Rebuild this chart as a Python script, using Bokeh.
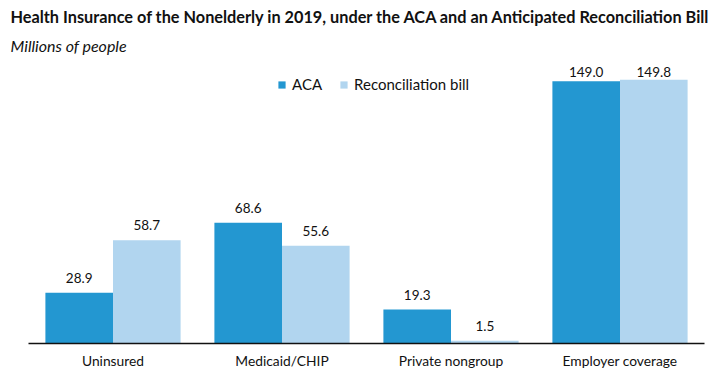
from bokeh.plotting import figure
from bokeh.models import ColumnDataSource, FactorRange, LabelSet, Legend, LegendItem, Title
from bokeh.core.properties import value
from bokeh.transform import dodge
from bokeh.embed import file_html
from bokeh.resources import INLINE

categories = ["Uninsured", "Medicaid/CHIP", "Private nongroup", "Employer coverage"]
aca = [28.9, 68.6, 19.3, 149.0]
recon = [58.7, 55.6, 1.5, 149.8]
series_names = ["ACA", "Reconciliation bill"]
colors = ["#2397d1", "#b1d5ef"]
title_text = "Health Insurance of the Nonelderly in 2019, under the ACA and an Anticipated Reconciliation Bill"
subtitle_text = "Millions of people"

# value labels are kept inside the chart area (as in the original): clamp their anchor
LABEL_CAP = 146.0

src = ColumnDataSource(dict(
    cat=categories,
    aca=aca,
    recon=recon,
    aca_ly=[min(v, LABEL_CAP) for v in aca],
    recon_ly=[min(v, LABEL_CAP) for v in recon],
    aca_txt=[f"{v:.1f}" for v in aca],
    recon_txt=[f"{v:.1f}" for v in recon],
))

FONT = "Lato"

p = figure(width=714, height=380, x_range=FactorRange(*categories, range_padding=0),
           y_range=(0, 162.5), output_backend="svg", toolbar_location=None,
           min_border_left=28, min_border_right=10, min_border_top=0, min_border_bottom=37,
           title=None)
p.outline_line_color = None
p.grid.visible = False
p.yaxis.visible = False

r1 = p.vbar(x=dodge("cat", -0.2, range=p.x_range), top="aca", width=0.4, source=src,
            fill_color=colors[0], line_color=None)
r2 = p.vbar(x=dodge("cat", 0.2, range=p.x_range), top="recon", width=0.4, source=src,
            fill_color=colors[1], line_color=None)

for col, txt, off in [("aca_ly", "aca_txt", -0.2), ("recon_ly", "recon_txt", 0.2)]:
    ls = LabelSet(x=dodge("cat", off, range=p.x_range), y=col, text=txt, source=src,
                  y_offset=10, text_align="center", text_baseline="alphabetic",
                  text_font=value(FONT), text_font_size="13.5px", text_color="#111111")
    p.add_layout(ls)

ax = p.xaxis[0]
ax.axis_line_color = "#111111"
ax.axis_line_width = 1.5
ax.major_tick_line_color = None
ax.minor_tick_line_color = None
ax.major_label_text_font = FONT
ax.major_label_text_font_size = "13.8px"
ax.major_label_text_color = "#111111"
ax.major_label_standoff = 2

legend = Legend(items=[LegendItem(label=series_names[0], renderers=[r1]),
                       LegendItem(label=series_names[1], renderers=[r2])],
                orientation="horizontal", location=(249, 250),
                glyph_width=9, glyph_height=9, label_standoff=6, spacing=17,
                padding=0, margin=0, border_line_color=None, background_fill_alpha=0,
                label_text_font=FONT, label_text_font_size="15px", label_text_color="#111111")
p.add_layout(legend)

p.add_layout(Title(text=subtitle_text, align="left", offset=-18, standoff=6,
                   text_font=FONT, text_font_style="italic", text_font_size="16px",
                   text_color="#111111"), "above")
p.add_layout(Title(text=title_text, align="left", offset=-18, standoff=9,
                   text_font=FONT, text_font_style="bold", text_font_size="16.3px",
                   text_color="#111111"), "above")

open("out.html", "w").write(file_html(p, INLINE))
